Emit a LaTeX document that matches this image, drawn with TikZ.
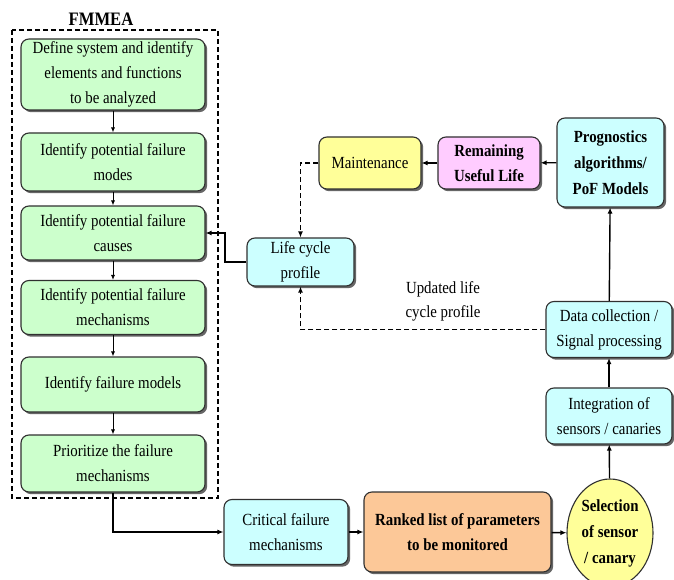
\documentclass[tikz,border=0pt]{standalone}
\usepackage{fontspec}
\setmainfont{Liberation Serif}[FakeStretch=0.875]
\usetikzlibrary{arrows.meta,shapes.geometric,shadows}
\definecolor{cgreen}{HTML}{CCFFCC}
\definecolor{ccyan}{HTML}{CCFFFF}
\definecolor{cyellow}{HTML}{FFFF99}
\definecolor{cpink}{HTML}{FFCCFF}
\definecolor{corange}{HTML}{FCC898}
\definecolor{cedge}{HTML}{303030}
\tikzset{
  boxbase/.style={draw=cedge, line width=1.1pt, rounded corners=8pt, align=center, inner sep=0pt,
    font=\fontsize{17}{25}\selectfont,
    drop shadow={shadow xshift=2.2pt, shadow yshift=-2.2pt, fill=black!75, opacity=0.8}},
  gbox/.style={boxbase, fill=cgreen, minimum width=184pt},
  cbox/.style={boxbase, fill=ccyan},
  conn/.style={line width=1.4pt, -{Latex[length=6pt,width=5pt]}},
  thinconn/.style={line width=0.8pt, -{Latex[length=5pt,width=4pt]}},
  dconn/.style={line width=1.3pt, dash pattern=on 5pt off 3pt, -{Latex[length=6pt,width=5pt]}},
}
\begin{document}
\begin{tikzpicture}[x=1pt,y=-1pt]
\useasboundingbox (0,0) rectangle (674,580);
\fill[white] (0,0) rectangle (674,580);
% FMMEA group
\draw[line width=1.1pt, dash pattern=on 5pt off 3pt] (12,30) rectangle (218,498);
\node[font=\fontsize{19}{20}\selectfont\bfseries] (fm) at (101,19) {FMMEA};
% green boxes
\node[gbox, minimum height=71pt] (g1) at (113,74.5) {Define system and identify\\elements and functions\\to be analyzed};
\node[gbox, minimum height=58pt] (g2) at (113,162) {Identify potential failure\\modes};
\node[gbox, minimum height=54pt] (g3) at (113,233) {Identify potential failure\\causes};
\node[gbox, minimum height=54pt] (g4) at (113,307.5) {Identify potential failure\\mechanisms};
\node[gbox, minimum height=55pt] (g5) at (113,384.5) {Identify failure models};
\node[gbox, minimum height=57pt] (g6) at (113,463.5) {Prioritize the failure\\mechanisms};
% right side
\node[cbox, minimum width=107pt, minimum height=48pt] (life) at (300.5,262) {Life cycle\\profile};
\node[boxbase, fill=cyellow, minimum width=102pt, minimum height=52pt] (maint) at (370,163) {Maintenance};
\node[boxbase, fill=cpink, minimum width=102pt, minimum height=52pt, font=\fontsize{17}{25}\selectfont\bfseries] (rul) at (489,163) {Remaining\\Useful Life};
\node[cbox, minimum width=107pt, minimum height=89pt, font=\fontsize{17}{26}\selectfont\bfseries] (prog) at (610.5,162.5) {Prognostics\\algorithms/\\PoF Models};
\node[cbox, minimum width=126pt, minimum height=56pt] (data) at (609,329.5) {Data collection /\\Signal processing};
\node[cbox, minimum width=126pt, minimum height=56pt] (integ) at (609,416) {Integration of\\sensors / canaries};
\node[cbox, minimum width=124pt, minimum height=65pt] (crit) at (286,532) {Critical failure\\mechanisms};
\node[boxbase, fill=corange, minimum width=187pt, minimum height=80pt, font=\fontsize{17}{25}\selectfont\bfseries] (rank) at (457.5,532) {Ranked list of parameters\\to be monitored};
\node[ellipse, draw=cedge, line width=1.1pt, fill=cyellow, minimum width=86pt, minimum height=108pt, inner sep=0pt, align=center, font=\fontsize{17}{26}\selectfont\bfseries] (sel) at (610,533) {Selection\\of sensor\\/ canary};
\node[align=center, font=\fontsize{17}{24}\selectfont] (upd) at (443,301) {Updated life\\cycle profile};
% connectors
\draw[thinconn] (g1) -- (g2);
\draw[thinconn] (g2) -- (g3);
\draw[thinconn] (g3) -- (g4);
\draw[thinconn] (g4) -- (g5);
\draw[thinconn] (g5) -- (g6);
\draw[conn] (g6.south) |- (crit.west);
\draw[conn] (crit) -- (rank);
\draw[conn] (rank) -- (sel);
\draw[conn] (sel) -- (integ);
\draw[conn] (integ) -- (data);
\draw[conn] (data) -- (prog);
\draw[conn] (prog) -- (rul);
\draw[conn] (rul) -- (maint);
\draw[dconn] (maint.west) -| (life.north);
\draw[dconn] (data.west) -| (life.south);
\coordinate (lk) at (225,262);
\draw[conn] (life.west) -- (lk) |- (g3.east);
\end{tikzpicture}
\end{document}
